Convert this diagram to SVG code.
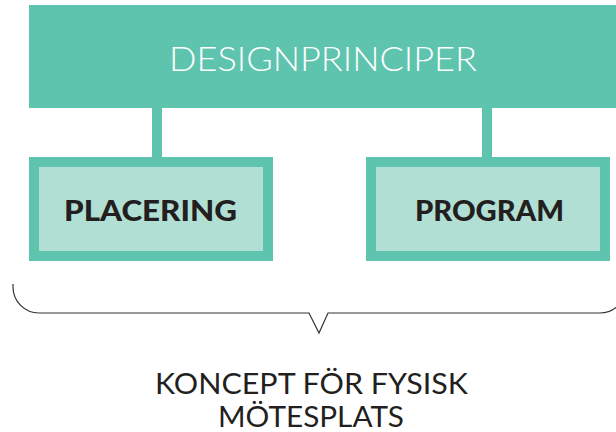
<svg xmlns="http://www.w3.org/2000/svg" width="616" height="432" viewBox="0 0 616 432">
<style>
.border{fill:#5EC4AE}
.inner{fill:#B2DFD4}
.title{font-family:Lato,"Open Sans","Liberation Sans",sans-serif;font-weight:300;fill:#FFFFFF;font-size:33px}
.label{font-family:Lato,"Liberation Sans","DejaVu Sans",sans-serif;font-weight:900;fill:#231F20;font-size:28px}
.caption{font-family:Lato,"Open Sans","Liberation Sans",sans-serif;font-weight:400;fill:#231F20;font-size:29px}
</style>
<rect width="616" height="432" fill="#FFFFFF"/>
<g id="connectors">
<rect class="border" x="152" y="105" width="10" height="55"/>
<rect class="border" x="482" y="105" width="10" height="55"/>
<path d="M13 284 V287 A26 26 0 0 0 39 313 H309 L319 333 L328 313 H600 A26 26 0 0 0 626 287 V284" fill="none" stroke="#333333" stroke-width="1.2"/>
</g>
<g id="designprinciper">
<rect class="border" x="29" y="5" width="590" height="103"/>
<text class="title" x="169" y="71" textLength="308" lengthAdjust="spacingAndGlyphs">DESIGNPRINCIPER</text>
</g>
<g id="placering">
<rect class="border" x="29" y="157" width="244" height="104"/>
<rect class="inner" x="39" y="167" width="224" height="84"/>
<text class="label" x="64" y="221" textLength="173" lengthAdjust="spacingAndGlyphs">PLACERING</text>
</g>
<g id="program">
<rect class="border" x="366" y="157" width="244" height="104"/>
<rect class="inner" x="376" y="167" width="224" height="84"/>
<text class="label" x="415" y="221" textLength="149" lengthAdjust="spacingAndGlyphs">PROGRAM</text>
</g>
<g id="koncept">
<text class="caption" x="155" y="394" textLength="313" lengthAdjust="spacingAndGlyphs">KONCEPT FÖR FYSISK</text>
<text class="caption" x="218" y="427" textLength="186" lengthAdjust="spacingAndGlyphs">MÖTESPLATS</text>
</g>
</svg>
